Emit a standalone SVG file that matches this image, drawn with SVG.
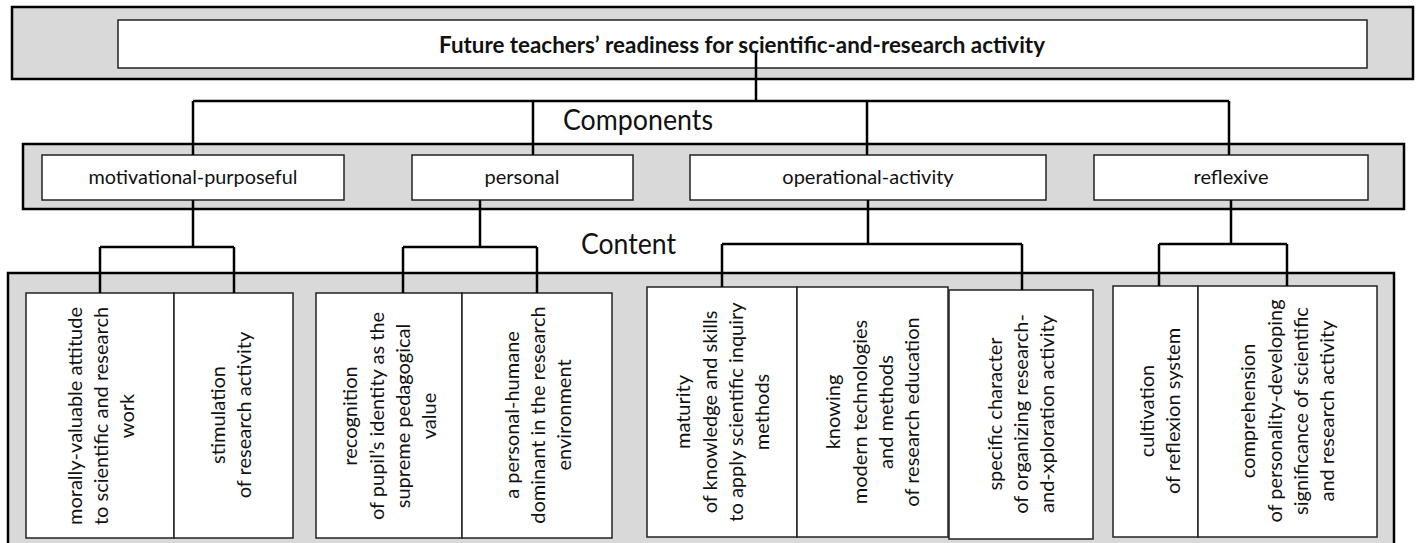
<svg xmlns="http://www.w3.org/2000/svg" width="1420" height="543" viewBox="0 0 1420 543">
<style>
.outer{fill:#d9d9d9;stroke:#000;stroke-width:2.5}
.box{fill:#fff;stroke:#222;stroke-width:1.5}
.conn{fill:none;stroke:#000;stroke-width:2.5}
text{font-family:Lato,"Liberation Sans",sans-serif;fill:#111}
.title{font-size:23px;font-weight:bold}
.head{font-size:29px}
.lbl{font-size:20px}
.vt{font-size:20px;text-anchor:middle}
</style>
<rect width="1420" height="543" fill="#fff"/>
<g id="top">
<rect class="outer" x="12" y="7" width="1401" height="72"/>
<rect class="box" x="118" y="20" width="1249" height="48"/>
<text class="title" x="439" y="53" textLength="606" lengthAdjust="spacingAndGlyphs">Future teachers’ readiness for scientific-and-research activity</text>
</g>
<text id="components-label" class="head" x="563" y="130" textLength="150" lengthAdjust="spacingAndGlyphs">Components</text>
<text id="content-label" class="head" x="581" y="254" textLength="95" lengthAdjust="spacingAndGlyphs">Content</text>
<rect id="components-panel" class="outer" x="23" y="144" width="1381" height="65"/>
<rect id="content-panel" class="outer" x="8" y="273" width="1386" height="290"/>
<g id="comp-motivational">
<rect class="box" x="42" y="155" width="302" height="45"/>
<text class="lbl" x="193" y="184" text-anchor="middle" textLength="209" lengthAdjust="spacingAndGlyphs">motivational-purposeful</text>
</g>
<g id="comp-personal">
<rect class="box" x="412" y="155" width="221" height="45"/>
<text class="lbl" x="522" y="184" text-anchor="middle">personal</text>
</g>
<g id="comp-operational">
<rect class="box" x="690" y="155" width="356" height="45"/>
<text class="lbl" x="868" y="184" text-anchor="middle">operational-activity</text>
</g>
<g id="comp-reflexive">
<rect class="box" x="1094" y="155" width="274" height="45"/>
<text class="lbl" x="1231" y="184" text-anchor="middle">reflexive</text>
</g>
<g id="c-mot-a">
<rect class="box" x="26" y="293" width="148" height="245"/>
<g transform="translate(101,416) rotate(-90)">
<text class="vt" x="0" y="-19">morally-valuable attitude</text>
<text class="vt" x="0" y="7">to scientific and research</text>
<text class="vt" x="0" y="33">work</text>
</g>
</g>
<g id="c-mot-b">
<rect class="box" x="174" y="293" width="119" height="245"/>
<g transform="translate(231,415) rotate(-90)">
<text class="vt" x="0" y="-6">stimulation</text>
<text class="vt" x="0" y="20">of research activity</text>
</g>
</g>
<g id="c-per-a">
<rect class="box" x="316" y="293" width="146" height="245"/>
<g transform="translate(390,416) rotate(-90)">
<text class="vt" x="0" y="-33">recognition</text>
<text class="vt" x="0" y="-6">of pupil’s identity as the</text>
<text class="vt" x="0" y="20">supreme pedagogical</text>
<text class="vt" x="0" y="46">value</text>
</g>
</g>
<g id="c-per-b">
<rect class="box" x="462" y="293" width="150" height="245"/>
<g transform="translate(538,415) rotate(-90)">
<text class="vt" x="0" y="-19">a personal-humane</text>
<text class="vt" x="0" y="7">dominant in the research</text>
<text class="vt" x="0" y="33">environment</text>
</g>
</g>
<g id="c-op-a">
<rect class="box" x="647" y="287" width="150" height="250"/>
<g transform="translate(723,412) rotate(-90)">
<text class="vt" x="0" y="-33">maturity</text>
<text class="vt" x="0" y="-6">of knowledge and skills</text>
<text class="vt" x="0" y="20">to apply scientific inquiry</text>
<text class="vt" x="0" y="46">methods</text>
</g>
</g>
<g id="c-op-b">
<rect class="box" x="797" y="287" width="151" height="250"/>
<g transform="translate(873,412) rotate(-90)">
<text class="vt" x="0" y="-33">knowing</text>
<text class="vt" x="0" y="-6">modern technologies</text>
<text class="vt" x="0" y="20">and methods</text>
<text class="vt" x="0" y="46">of research education</text>
</g>
</g>
<g id="c-op-c">
<rect class="box" x="949" y="290" width="144" height="249"/>
<g transform="translate(1021,414) rotate(-90)">
<text class="vt" x="0" y="-19">specific character</text>
<text class="vt" x="0" y="7">of organizing research-</text>
<text class="vt" x="0" y="33">and-xploration activity</text>
</g>
</g>
<g id="c-ref-a">
<rect class="box" x="1113" y="286" width="85" height="251"/>
<g transform="translate(1160,411) rotate(-90)">
<text class="vt" x="0" y="-6">cultivation</text>
<text class="vt" x="0" y="20">of reflexion system</text>
</g>
</g>
<g id="c-ref-b">
<rect class="box" x="1198" y="286" width="179" height="251"/>
<g transform="translate(1288,411) rotate(-90)">
<text class="vt" x="0" y="-33">comprehension</text>
<text class="vt" x="0" y="-6">of personality-developing</text>
<text class="vt" x="0" y="20">significance of scientific</text>
<text class="vt" x="0" y="46">and research activity</text>
</g>
</g>
<g id="connectors" class="conn">
<path d="M756 51V101M193 101H1229M193 101V155M533 101V155M867 101V155M1229 101V155"/>
<path d="M193 200V247M100 247H234M100 247V293M234 247V293"/>
<path d="M480 200V247M403 247H537M403 247V293M537 247V293"/>
<path d="M868 200V244M722 244H1022M722 244V287M1022 244V290"/>
<path d="M1231 200V244M1159 244H1287M1159 244V286M1287 244V286"/>
</g>
</svg>
